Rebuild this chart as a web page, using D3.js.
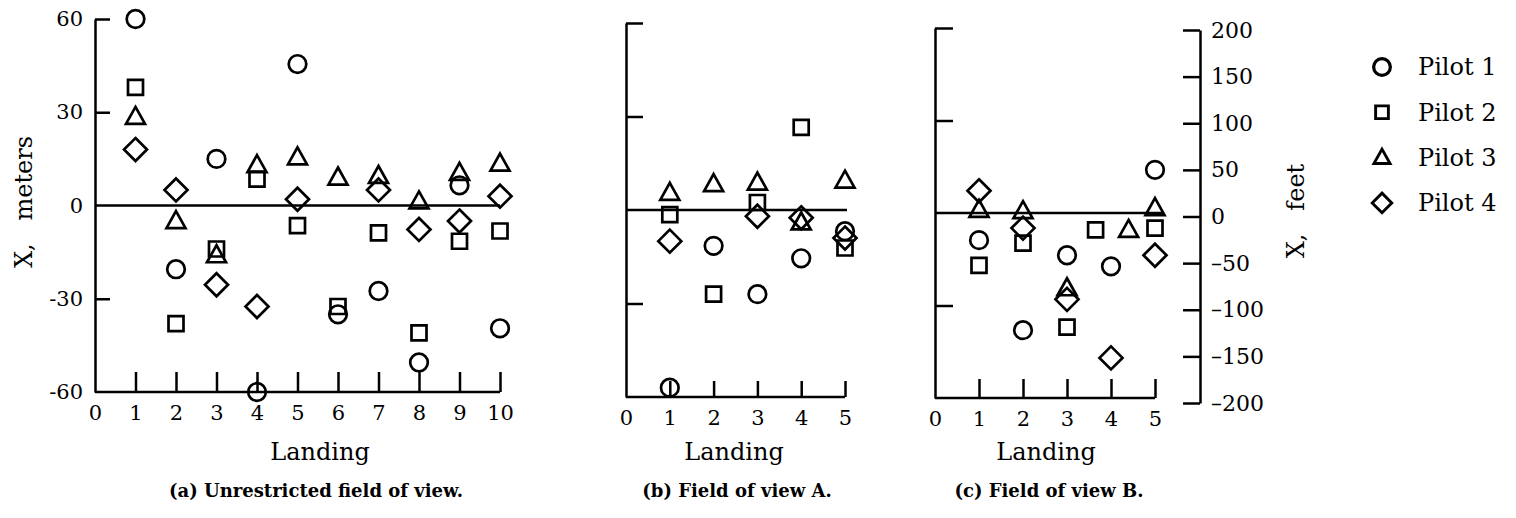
<!DOCTYPE html>
<html>
<head>
<meta charset="utf-8">
<script src="https://cdn.jsdelivr.net/npm/d3@7"></script>
<style>
  body { margin: 0; background: #fff; }
  svg { display: block; }
  text { font-family: "DejaVu Serif", serif; fill: #000; white-space: pre; }
  .axis path, .axis line { stroke: #000; stroke-width: 2.5; }
  .axis text { font-size: 21px; font-family: "DejaVu Serif", serif; }
  .caption { font-weight: bold; font-size: 18px; }
</style>
</head>
<body>
<svg id="chart"></svg>
<script>
// Pilots / marker shapes
var pilots = ["Pilot 1", "Pilot 2", "Pilot 3", "Pilot 4"];
var shapes = ["circle", "square", "triangle", "diamond"];

// (a) Unrestricted field of view, landings 1..10, X in meters
var landingsA = [1, 2, 3, 4, 5, 6, 7, 8, 9, 10];
var pilot1A = [60, -20.5, 15, -60, 45.5, -35, -27.5, -50.5, 6.5, -39.5];
var pilot2A = [38, -38, -14, 8.5, -6.5, -32.5, -8.8, -41, -11.5, -8.2];
var pilot3A = [28.5, -5, -16, 13, 15.5, 9, 9.5, 1.3, 10.5, 13.5];
var pilot4A = [18, 5, -25.5, -32.5, 2, null, 5, -7.7, -5, 3];

// (b) Field of view A, landings 1..5
var landingsB = [1, 2, 3, 4, 5];
var pilot1B = [-57, -11.5, -27, -15.5, -6.8];
var pilot2B = [-1.5, -27, 2.4, 26.5, -12.2];
var pilot3B = [5.5, 8.3, 8.8, -4, 9.4];
var pilot4B = [-10, null, -2, -2.5, -9];

// (c) Field of view B, landing positions as plotted
var landingsC1 = [1, 2, 3, 4, 5];
var pilot1C = [-8.8, -38, -13.7, -17.3, 14];
var landingsC2 = [1, 2, 3, 3.65, 5];
var pilot2C = [-17, -9.8, -37, -5.5, -4.9];
var landingsC3 = [1, 2, 3, 4.4, 5];
var pilot3C = [1, 0.6, -24.4, -5.5, 1.6];
var landingsC4 = [1, 2, 3, 4, 5];
var pilot4C = [7.2, -4.9, -28, -47, -13.7];

// axis ticks
var meterTicks = [-60, -30, 0, 30, 60];
var feetTicks = [-200, -150, -100, -50, 0, 50, 100, 150, 200];

var svgWidth = 1516, svgHeight = 518;
var svg = d3.select("#chart").attr("width", svgWidth).attr("height", svgHeight);

function series(xs, ys) {
  var out = [];
  xs.forEach(function (x, i) { if (ys[i] !== null) out.push({ x: x, y: ys[i] }); });
  return out;
}

// marker path generator
function markerPath(shape) {
  if (shape === "circle") return d3.symbol().type(d3.symbolCircle).size(Math.PI * 8.8 * 8.8)();
  if (shape === "square") return "M-7.5,-7.5H7.5V7.5H-7.5Z";
  if (shape === "triangle") return "M0,-10L9.5,7H-9.5Z";
  return "M0,-11.5L11.5,0L0,11.5L-11.5,0Z";
}

function drawMarkers(g, data, xScale, yScale, shape) {
  g.selectAll(null)
    .data(data)
    .enter()
    .append("path")
    .attr("d", markerPath(shape))
    .attr("transform", function (d) { return "translate(" + xScale(d.x) + "," + yScale(d.y) + ")"; })
    .attr("fill", "none")
    .attr("stroke", "#000")
    .attr("stroke-width", 2.7);
}

function drawPanel(cfg) {
  var x = d3.scaleLinear().domain([0, cfg.maxX]).range([cfg.x0, cfg.x1]);
  var y = d3.scaleLinear().domain([-60, 60]).range([cfg.yBottom, cfg.yTop]);
  var g = svg.append("g");

  // left axis (meters)
  var left = d3.axisLeft(y).tickValues(meterTicks).tickSizeInner(-cfg.yTick).tickSizeOuter(0).tickPadding(12);
  var la = g.append("g").attr("class", "axis").attr("transform", "translate(" + cfg.x0 + ",0)").call(left);
  la.selectAll(".tick").filter(function (d) { return d === -60 || d === 0; }).select("line").remove();
  la.selectAll("text").text(function (d) { return cfg.yLabels ? (d < 0 ? "-" + (-d) : d) : ""; });

  // bottom axis (landings)
  var ticks = d3.range(0, cfg.maxX + 1);
  var bottom = d3.axisBottom(x).tickValues(ticks).tickFormat(d3.format("d"))
    .tickSizeInner(-cfg.xTick).tickSizeOuter(0).tickPadding(13);
  var ba = g.append("g").attr("class", "axis").attr("transform", "translate(0," + y(-60) + ")").call(bottom);
  ba.select(".domain").attr("d", "M" + cfg.x0 + ",0H" + x(cfg.maxX));
  ba.selectAll(".tick").filter(function (d) { return d === 0; }).select("line").remove();
  ba.selectAll("text").attr("dy", "0.72em");

  // zero reference line
  g.append("line")
    .attr("x1", cfg.x0).attr("x2", cfg.zeroEnd)
    .attr("y1", y(0)).attr("y2", y(0))
    .attr("stroke", "#000").attr("stroke-width", 2.5);

  cfg.data.forEach(function (d, i) {
    drawMarkers(g, d, x, y, shapes[i]);
  });

  g.append("text")
    .attr("x", cfg.labelX).attr("y", 460)
    .attr("text-anchor", "middle")
    .style("font-size", "24px")
    .text("Landing");

  g.append("text")
    .attr("class", "caption")
    .attr("x", cfg.captionX).attr("y", 497)
    .attr("text-anchor", "middle")
    .text(cfg.caption);

  return { x: x, y: y };
}

drawPanel({
  x0: 95, x1: 500, maxX: 10, yTop: 19, yBottom: 392, yTick: 15, xTick: 20, yLabels: true,
  zeroEnd: 500, labelX: 320, captionX: 316, caption: "(a) Unrestricted field of view.",
  data: [series(landingsA, pilot1A), series(landingsA, pilot2A), series(landingsA, pilot3A), series(landingsA, pilot4A)]
});

drawPanel({
  x0: 626, x1: 845, maxX: 5, yTop: 23, yBottom: 397, yTick: 17, xTick: 16, yLabels: false,
  zeroEnd: 847, labelX: 734, captionX: 737, caption: "(b) Field of view A.",
  data: [series(landingsB, pilot1B), series(landingsB, pilot2B), series(landingsB, pilot3B), series(landingsB, pilot4B)]
});

drawPanel({
  x0: 935, x1: 1155, maxX: 5, yTop: 28, yBottom: 398, yTick: 18, xTick: 19, yLabels: false,
  zeroEnd: 1163, labelX: 1046, captionX: 1049, caption: "(c) Field of view B.",
  data: [series(landingsC1, pilot1C), series(landingsC2, pilot2C), series(landingsC3, pilot3C), series(landingsC4, pilot4C)]
});

// right axis in feet
var yFeet = d3.scaleLinear().domain([-200, 200]).range([403, 30]);
var right = d3.axisRight(yFeet).tickValues(feetTicks).tickSizeInner(-17).tickSizeOuter(0).tickPadding(11)
  .tickFormat(function (d) { return d < 0 ? "\u2013" + (-d) : d; });
var ra = svg.append("g").attr("class", "axis").attr("transform", "translate(1200,0)").call(right);
ra.selectAll("text").style("font-size", "22px");

// axis titles
svg.append("text")
  .attr("transform", "translate(32,202) rotate(-90)")
  .attr("text-anchor", "middle")
  .style("font-size", "24px")
  .text("X,   meters");

svg.append("text")
  .attr("transform", "translate(1304,211) rotate(-90)")
  .attr("text-anchor", "middle")
  .style("font-size", "24px")
  .text("X,   feet");

// legend
var legend = svg.append("g").attr("transform", "translate(1382,67)");
pilots.forEach(function (p, i) {
  var row = legend.append("g").attr("transform", "translate(0," + (i * 45.3) + ")");
  row.append("path")
    .attr("d", markerPath(shapes[i]))
    .attr("transform", shapes[i] === "circle" ? "scale(0.95)" : "scale(0.85)")
    .attr("fill", "none").attr("stroke", "#000").attr("stroke-width", 3.4);
  row.append("text")
    .attr("x", 36).attr("y", 0).attr("dy", "0.35em")
    .style("font-size", "24px")
    .text(p);
});
</script>
</body>
</html>
